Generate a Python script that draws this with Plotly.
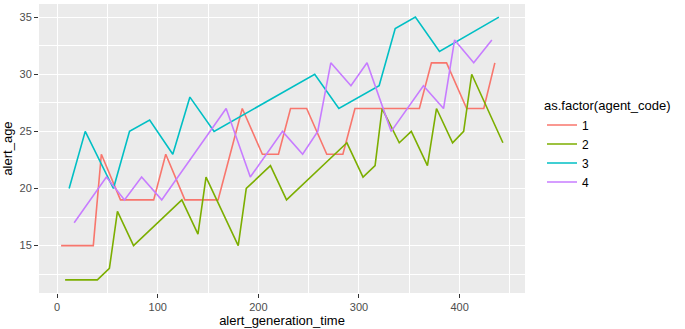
import plotly.graph_objects as go

# ---- data ----
agents = ["1", "2", "3", "4"]
colors = ["#F8766D", "#7CAE00", "#00BFC4", "#C77CFF"]

time_1 = [4, 36, 44, 63, 96, 108, 127, 160, 184, 204, 220, 232, 248, 268, 284, 296, 360, 372, 387, 407, 424, 435]
age_1 = [15, 15, 23, 19, 19, 23, 19, 19, 27, 23, 23, 27, 27, 23, 23, 27, 27, 31, 31, 27, 27, 31]

time_2 = [8, 40, 52, 60, 76, 124, 140, 148, 180, 188, 212, 228, 288, 304, 316, 323, 340, 352, 368, 377, 393, 404, 412, 443]
age_2 = [12, 12, 13, 18, 15, 19, 16, 21, 15, 20, 22, 19, 24, 21, 22, 27, 24, 25, 22, 27, 24, 25, 30, 24]

time_3 = [12, 28, 56, 72, 92, 115, 132, 156, 256, 280, 320, 336, 356, 380, 439]
age_3 = [20, 25, 20, 25, 26, 23, 28, 25, 30, 27, 29, 34, 35, 32, 35]

time_4 = [17, 49, 67, 84, 104, 168, 192, 224, 244, 259, 272, 292, 308, 332, 364, 384, 395, 414, 432]
age_4 = [17, 21, 19, 21, 19, 27, 21, 25, 23, 25, 31, 29, 31, 25, 29, 27, 33, 31, 33]

x_ticks = [0, 100, 200, 300, 400]
y_ticks = [15, 20, 25, 30, 35]

series_x = [time_1, time_2, time_3, time_4]
series_y = [age_1, age_2, age_3, age_4]

fig = go.Figure()
for name, col, xs, ys in zip(agents, colors, series_x, series_y):
    fig.add_trace(go.Scatter(x=xs, y=ys, mode="lines", name=name,
                             line=dict(color=col, width=1.6)))

FONT = "Liberation Sans, Arial, sans-serif"
axis_common = dict(
    showgrid=True, gridcolor="#FFFFFF", gridwidth=1.1,
    zeroline=False, showline=False, automargin=False,
    ticks="outside", ticklen=4, tickwidth=1, tickcolor="#333333",
    tickfont=dict(family=FONT, size=11, color="#4D4D4D"),
)

xmin = min(min(s) for s in series_x)
xmax = max(max(s) for s in series_x)
ymin = min(min(s) for s in series_y)
ymax = max(max(s) for s in series_y)
xpad = (xmax - xmin) * 0.05
ypad = (ymax - ymin) * 0.05

fig.update_xaxes(**axis_common, range=[xmin - xpad, xmax + xpad],
                 tickvals=x_ticks,
                 minor=dict(dtick=50, tick0=0, showgrid=True, gridcolor="#FFFFFF", gridwidth=0.5, ticks=""),
                 title=dict(text="alert_generation_time", font=dict(family=FONT, size=13, color="#000000"), standoff=2))
fig.update_yaxes(**axis_common, range=[ymin - ypad, ymax + ypad],
                 tickvals=y_ticks,
                 minor=dict(dtick=2.5, tick0=0, showgrid=True, gridcolor="#FFFFFF", gridwidth=0.5, ticks=""),
                 title=dict(text="alert_age", font=dict(family=FONT, size=13, color="#000000"), standoff=4))

fig.update_layout(
    width=685, height=329,
    margin=dict(l=39, r=160, t=4, b=36, autoexpand=False),
    paper_bgcolor="#FFFFFF", plot_bgcolor="#EBEBEB",
    font=dict(family=FONT, size=11, color="#000000"),
    legend=dict(
        title=dict(text="as.factor(agent_code)", font=dict(family=FONT, size=13, color="#000000")),
        x=1.035, y=0.69, xanchor="left", yanchor="top",
        bgcolor="rgba(0,0,0,0)", font=dict(family=FONT, size=12, color="#000000"),
        tracegroupgap=0, itemwidth=30,
    ),
    showlegend=True,
)

fig.write_html("out.html", config={"displayModeBar": False},
               post_script="document.body.style.margin='0px';document.body.style.overflow='hidden';")
